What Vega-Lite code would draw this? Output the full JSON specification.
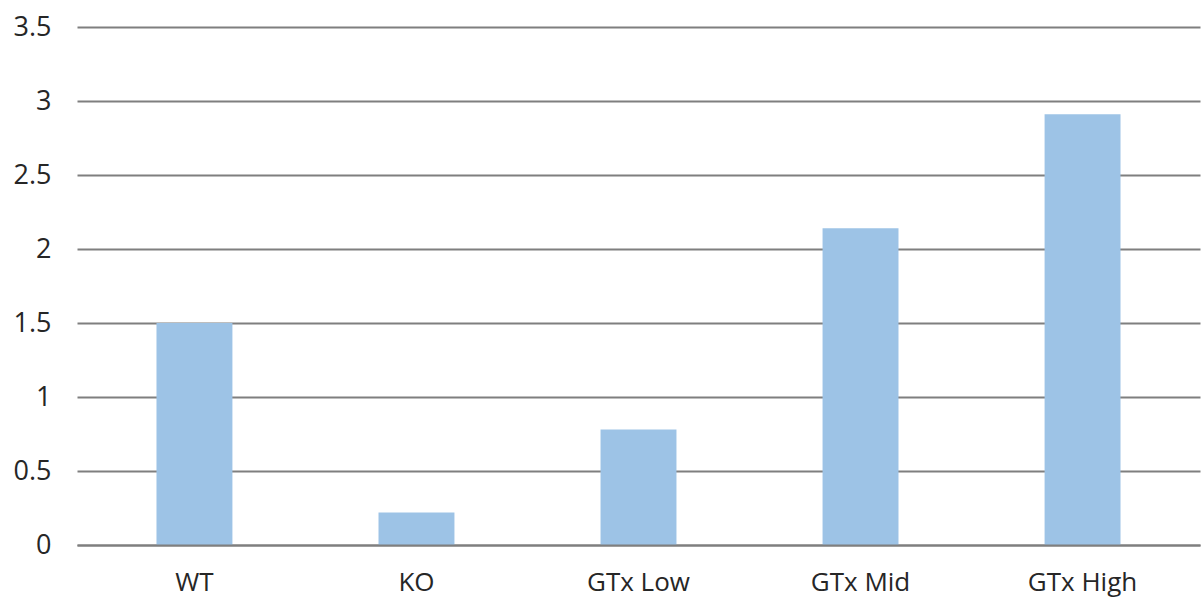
{
  "$schema": "https://vega.github.io/schema/vega-lite/v6.json",
  "width": 1123,
  "height": 518,
  "autosize": {"type": "none"},
  "padding": {"left": 77, "top": 27, "right": 3, "bottom": 68},
  "background": "white",
  "config": {"view": {"stroke": null}, "font": "Open Sans"},
  "data": {
    "values": [
      {"group": "WT", "value": 1.5},
      {"group": "KO", "value": 0.22},
      {"group": "GTx Low", "value": 0.78},
      {"group": "GTx Mid", "value": 2.14},
      {"group": "GTx High", "value": 2.91}
    ]
  },
  "mark": {"type": "bar", "color": "#9DC3E6"},
  "encoding": {
    "x": {
      "field": "group",
      "type": "nominal",
      "sort": null,
      "title": null,
      "scale": {"paddingInner": 0.658, "paddingOuter": 0.358},
      "axis": {
        "labelAngle": 0,
        "labelFontSize": 26,
        "labelColor": "#262626",
        "labelPadding": 24,
        "ticks": false,
        "domain": true,
        "domainColor": "#7f7f7f",
        "domainWidth": 2,
        "zindex": 1
      }
    },
    "y": {
      "field": "value",
      "type": "quantitative",
      "title": null,
      "scale": {"domain": [0, 3.5], "nice": false},
      "axis": {
        "values": [0, 0.5, 1, 1.5, 2, 2.5, 3, 3.5],
        "labelFontSize": 27,
        "labelColor": "#262626",
        "labelPadding": 26,
        "ticks": false,
        "domain": false,
        "grid": true,
        "gridColor": "#7f7f7f",
        "gridWidth": 2,
        "labelExpr": "datum.value == 0 ? '0' : format(datum.value, '')"
      }
    }
  }
}
